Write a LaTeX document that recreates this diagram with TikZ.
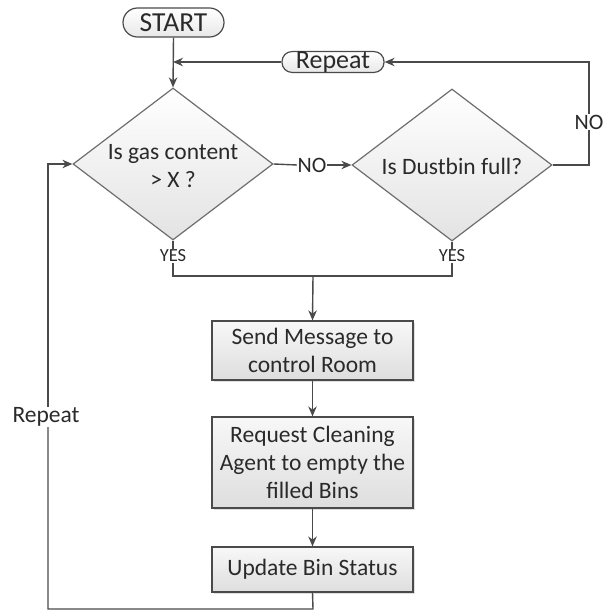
\documentclass[tikz,border=0pt]{standalone}
\usepackage{fontspec}
\setmainfont{Carlito}
\usetikzlibrary{shapes.geometric,arrows.meta,shadows}
\definecolor{lc}{HTML}{4A4A4A}
\definecolor{tc}{HTML}{2A2A2A}
\tikzset{
  conn/.style={draw=lc,line width=1.4pt},
  arr/.style={conn,-{Stealth[length=10pt,width=8.5pt]}},
  term/.style={draw=lc,line width=1.2pt,rounded corners=#1,top color=white,bottom color=black!9,inner sep=0pt,text=tc},
  decis/.style={diamond,draw=lc!80,line width=1.2pt,top color=white,bottom color=black!11,inner sep=0pt,minimum width=200pt,minimum height=152pt},
  procbox/.style={draw=lc,line width=1.2pt,top color=black!3,bottom color=black!13,inner sep=0pt,minimum width=201pt,text=tc,align=center,
    drop shadow={shadow xshift=1.5pt,shadow yshift=-1.5pt,fill=black!25}},
  txt/.style={text=tc,align=center,inner sep=1pt},
}
\begin{document}
\begin{tikzpicture}[x=1pt,y=-1pt,font=\fontsize{23.5}{28}\selectfont]
\useasboundingbox (0,0) rectangle (603,612);
% terminators
\node[term=14.5pt,minimum width=101pt,minimum height=29pt,font=\fontsize{27.5}{30}\selectfont] (start) at (173.5,22.5) {START};
\node[term=10pt,minimum width=102pt,minimum height=20pt,font=\fontsize{26}{28}\selectfont] (rep) at (333,62) {Repeat};
% decisions
\node[decis] (d1) at (173,164) {};
\node[txt] (d1t) at (173,166) {Is gas content\\ {>} X ?};
\node[decis] (d2) at (452,165) {};
\node[txt] (d2t) at (452,166) {Is Dustbin full?};
% boxes
\node[procbox,minimum height=59pt] (b1) at (312.5,350.5) {Send Message to\\control Room};
\node[procbox,minimum height=91pt] (b2) at (312.5,462.5) {Request Cleaning\\Agent to empty the\\filled Bins};
\node[procbox,minimum height=45pt] (b3) at (312.5,569.5) {Update Bin Status};
% labels
\node[txt,font=\fontsize{18.5}{20}\selectfont] (y1) at (173,256) {YES};
\node[txt,font=\fontsize{18.5}{20}\selectfont] (y2) at (452,256) {YES};
\node[txt,font=\fontsize{22}{24}\selectfont,fill=white,inner sep=0.5pt] (no1) at (312,165) {NO};
\node[txt,font=\fontsize{22}{24}\selectfont,fill=white,inner sep=0.5pt] (no2) at (589,122) {NO};
\node[txt,fill=white,inner sep=0.5pt] (rl) at (46,417) {Repeat};
% coordinates
\coordinate (j1) at (173,62);
\coordinate (k1) at (173,276);
\coordinate (k2) at (452,276);
\coordinate (k3) at (313,276);
\coordinate (r1) at (589,165);
\coordinate (r2) at (589,62);
\coordinate (l1) at (313,609);
\coordinate (l2) at (48,609);
\coordinate (l3) at (48,164);
% connectors
\draw[arr] (start.south) -- (d1.north);
\draw[arr] (rep.west) -- (j1);
\draw[conn] (d1.east) -- (no1.west);
\draw[arr] (no1.east) -- (d2.west);
\draw[conn] (d2.east) -- (r1) -- (no2.south);
\draw[arr] (no2.north) -- (r2) -- (rep.east);
\draw[conn] (d1.south) -- (y1.north);
\draw[conn] (d2.south) -- (y2.north);
\draw[conn] (y1.south) -- (k1) -- (k2) -- (y2.south);
\draw[arr] (k3) -- (b1.north);
\draw[arr] (b1.south) -- (b2.north);
\draw[arr] (b2.south) -- (b3.north);
\draw[conn] (b3.south) -- (l1) -- (l2) -- (rl.south -| l2);
\draw[arr] (rl.north -| l3) -- (l3) -- (d1.west);
\end{tikzpicture}
\end{document}
